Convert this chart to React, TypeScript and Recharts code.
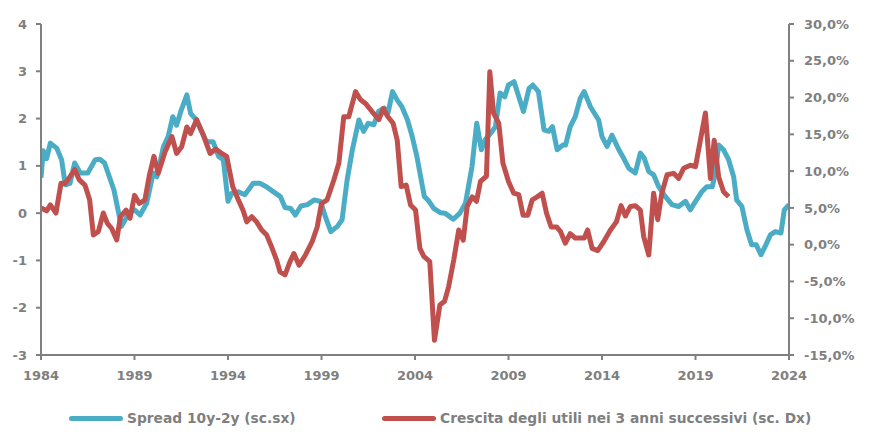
import { CartesianGrid, Legend, Line, LineChart, XAxis, YAxis } from "recharts"

const yearTicks = [1984, 1989, 1994, 1999, 2004, 2009, 2014, 2019, 2024]
const leftTicks = [-3, -2, -1, 0, 1, 2, 3, 4]
const rightTicks = [-15, -10, -5, 0, 5, 10, 15, 20, 25, 30]

// spread 10y-2y (left scale)
const spreadYears = [
  1984.0, 1984.12, 1984.3, 1984.5, 1984.85, 1985.1, 1985.3, 1985.55, 1985.8, 1986.1,
  1986.5, 1986.9, 1987.15, 1987.4, 1987.9, 1988.3, 1988.7, 1989.0, 1989.3, 1989.65,
  1990.0, 1990.2, 1990.55, 1990.8, 1991.05, 1991.25, 1991.5, 1991.8, 1992.0, 1992.3,
  1992.6, 1992.85, 1993.2, 1993.5, 1993.75, 1994.0, 1994.2, 1994.55, 1994.9, 1995.35,
  1995.7, 1996.05, 1996.4, 1996.8, 1997.05, 1997.35, 1997.6, 1997.9, 1998.25, 1998.6,
  1998.95, 1999.2, 1999.5, 1999.85, 2000.1, 2000.37, 2000.65, 2001.0, 2001.25, 2001.5,
  2001.8, 2002.05, 2002.35, 2002.55, 2002.8, 2003.05, 2003.3, 2003.6, 2003.85, 2004.1,
  2004.5, 2004.75, 2005.0, 2005.35, 2005.6, 2006.05, 2006.4, 2006.7, 2007.05, 2007.3,
  2007.55, 2007.75, 2008.05, 2008.3, 2008.55, 2008.8, 2009.0, 2009.3, 2009.55, 2009.8,
  2010.1, 2010.3, 2010.6, 2010.9, 2011.15, 2011.35, 2011.6, 2011.9, 2012.05, 2012.3,
  2012.57, 2012.84, 2013.05, 2013.38, 2013.82, 2014.0, 2014.27, 2014.53, 2014.9, 2015.16,
  2015.43, 2015.78, 2016.05, 2016.26, 2016.5, 2016.76, 2017.03, 2017.39, 2017.74, 2018.1,
  2018.46, 2018.72, 2019.0, 2019.35, 2019.6, 2019.9, 2020.06, 2020.24, 2020.5, 2020.77,
  2021.04, 2021.2, 2021.48, 2021.75, 2022.0, 2022.25, 2022.5, 2022.73, 2023.0, 2023.27,
  2023.57, 2023.75, 2024.0,
]
const spreadValues = [
  0.75, 1.32, 1.15, 1.48, 1.37, 1.13, 0.6, 0.63, 1.06, 0.85,
  0.85, 1.13, 1.14, 1.06, 0.49, -0.28, 0.0, 0.07, -0.04, 0.21,
  0.85, 0.77, 1.41, 1.62, 2.04, 1.86, 2.18, 2.5, 2.11, 1.97,
  1.72, 1.51, 1.51, 1.2, 1.13, 0.25, 0.42, 0.45, 0.39, 0.63,
  0.63, 0.56, 0.46, 0.35, 0.12, 0.1, -0.04, 0.15, 0.18, 0.28,
  0.25, -0.07, -0.39, -0.28, -0.14, 0.7, 1.34, 1.97, 1.73, 1.9,
  1.87, 2.15, 2.22, 2.11, 2.57, 2.39, 2.25, 1.97, 1.62, 1.2,
  0.35, 0.25, 0.1, 0.01, 0.0, -0.13, 0.0, 0.21, 0.99, 1.9,
  1.34, 1.55, 1.69, 1.83, 2.54, 2.46, 2.71, 2.78, 2.46, 2.15,
  2.64, 2.71, 2.57, 1.76, 1.73, 1.83, 1.34, 1.44, 1.44, 1.83,
  2.04, 2.43, 2.57, 2.25, 1.97, 1.62, 1.41, 1.65, 1.34, 1.16,
  0.95, 0.85, 1.27, 1.16, 0.88, 0.81, 0.56, 0.35, 0.18, 0.14,
  0.25, 0.07, 0.25, 0.46, 0.56, 0.56, 0.85, 1.44, 1.34, 1.13,
  0.77, 0.28, 0.14, -0.35, -0.67, -0.67, -0.88, -0.7, -0.46, -0.39,
  -0.42, 0.07, 0.18,
]

// earnings growth over the next 3 years, % (right scale)
const growthYears = [
  1984.0, 1984.3, 1984.5, 1984.8, 1985.07, 1985.3, 1985.55, 1985.8, 1986.05, 1986.35,
  1986.6, 1986.8, 1987.07, 1987.33, 1987.55, 1987.78, 1988.05, 1988.25, 1988.55, 1988.76,
  1989.0, 1989.26, 1989.56, 1989.8, 1990.04, 1990.27, 1990.63, 1991.0, 1991.25, 1991.52,
  1991.8, 1992.0, 1992.32, 1992.68, 1993.04, 1993.35, 1993.66, 1993.93, 1994.25, 1994.55,
  1994.8, 1995.0, 1995.27, 1995.53, 1995.8, 1996.07, 1996.33, 1996.6, 1996.78, 1997.05,
  1997.3, 1997.52, 1997.8, 1998.14, 1998.5, 1998.77, 1999.0, 1999.3, 1999.66, 1999.93,
  2000.19, 2000.46, 2000.82, 2001.09, 2001.35, 2001.7, 2002.07, 2002.3, 2002.55, 2002.83,
  2003.05, 2003.26, 2003.53, 2003.76, 2004.03, 2004.26, 2004.47, 2004.79, 2005.04, 2005.33,
  2005.58, 2005.8, 2006.07, 2006.34, 2006.58, 2006.79, 2007.06, 2007.29, 2007.5, 2007.82,
  2008.0, 2008.2, 2008.48, 2008.7, 2009.0, 2009.28, 2009.55, 2009.78, 2010.03, 2010.27,
  2010.53, 2010.8, 2011.03, 2011.28, 2011.57, 2011.78, 2012.04, 2012.3, 2012.57, 2012.84,
  2013.05, 2013.23, 2013.47, 2013.77, 2014.09, 2014.45, 2014.77, 2015.02, 2015.25, 2015.52,
  2015.78, 2016.05, 2016.23, 2016.5, 2016.76, 2016.98, 2017.2, 2017.48, 2017.83, 2018.1,
  2018.37, 2018.72, 2019.0, 2019.26, 2019.53, 2019.8, 2020.0, 2020.24, 2020.5, 2020.77,
]
const growthValues = [
  5.0, 4.6, 5.4, 4.3, 8.35, 8.35, 9.25, 10.2, 8.8, 8.1,
  6.1, 1.3, 1.8, 4.3, 2.9, 2.2, 0.64, 3.8, 4.7, 3.6,
  6.7, 5.6, 6.1, 9.5, 12.0, 9.7, 12.6, 14.7, 12.4, 13.3,
  16.0, 15.1, 17.0, 14.9, 12.4, 13.0, 12.4, 12.0, 7.9, 6.1,
  4.7, 3.1, 3.8, 3.1, 2.0, 1.3, -0.3, -2.1, -3.7, -4.1,
  -2.4, -1.2, -2.8, -1.4, 0.4, 2.4, 5.6, 6.1, 8.8, 11.1,
  17.4, 17.4, 20.8, 19.7, 19.2, 18.1, 17.0, 18.5, 17.4, 16.5,
  14.2, 7.9, 8.1, 5.4, 4.7, -0.5, -1.6, -2.3, -13.0, -8.2,
  -7.7, -5.7, -2.1, 2.0, 0.6, 5.2, 6.5, 5.9, 8.6, 9.3,
  23.5, 17.9, 16.5, 11.1, 8.6, 7.0, 6.8, 4.0, 4.0, 6.1,
  6.5, 7.0, 4.3, 2.4, 2.4, 1.8, 0.2, 1.5, 0.9, 0.9,
  0.9, 2.0, -0.5, -0.8, 0.4, 2.0, 3.1, 5.3, 3.9, 5.2,
  5.3, 4.7, 1.1, -1.4, 7.0, 3.4, 7.0, 9.5, 9.7, 9.0,
  10.4, 10.8, 10.6, 14.2, 17.9, 9.0, 14.2, 9.2, 7.2, 6.5,
]

const spreadData = spreadYears.map((year, i) => ({ year, spread: spreadValues[i] }))
const growthData = growthYears.map((year, i) => ({ year, growth: growthValues[i] }))

const TEAL = "#4BACC6"
const RED = "#C0504D"
const GREY = "#808080"

const tickStyle = { fill: "#7f7f7f", fontSize: 13, fontWeight: 700, fontFamily: "'DejaVu Sans', sans-serif" }

const fmtPct = (v: number) => v.toFixed(1).replace(".", ",") + "%"

function ChartLegend() {
  const item = (left: number, color: string, label: string) => (
    <div style={{ position: "absolute", left, top: 25, display: "flex", alignItems: "center" }}>
      <div style={{ width: 54, height: 5, borderRadius: 3, background: color, marginRight: 4 }} />
      <span style={{ color: "#7f7f7f", fontSize: 13.8, fontWeight: 700, fontFamily: "'DejaVu Sans', sans-serif" }}>
        {label}
      </span>
    </div>
  )
  return (
    <div style={{ position: "relative", height: 50, width: 853 }}>
      {item(61, TEAL, "Spread 10y-2y (sc.sx)")}
      {item(374, RED, "Crescita degli utili nei 3 anni successivi (sc. Dx)")}
    </div>
  )
}

export default function App() {
  return (
    <LineChart width={853} height={427} margin={{ top: 16, right: 0, bottom: 0, left: 0 }}>
      <CartesianGrid stroke="none" />
      <XAxis
        dataKey="year"
        type="number"
        domain={[1984, 2024]}
        ticks={yearTicks}
        allowDataOverflow
        height={30}
        tick={tickStyle}
        tickSize={5}
        tickMargin={11}
        stroke={GREY}
        strokeWidth={2}
      />
      <YAxis
        yAxisId="left"
        domain={[-3, 4]}
        ticks={leftTicks}
        width={33}
        tick={tickStyle}
        tickSize={5}
        tickMargin={9}
        stroke={GREY}
        strokeWidth={2}
      />
      <YAxis
        yAxisId="right"
        orientation="right"
        domain={[-15, 30]}
        ticks={rightTicks}
        tickFormatter={fmtPct}
        width={72}
        tick={tickStyle}
        tickSize={5}
        tickMargin={10}
        stroke={GREY}
        strokeWidth={2}
      />
      <Legend verticalAlign="bottom" content={() => <ChartLegend />} />
      <Line
        yAxisId="left"
        data={spreadData}
        dataKey="spread"
        type="linear"
        stroke={TEAL}
        strokeWidth={5}
        strokeLinejoin="round"
        dot={false}
        isAnimationActive={false}
      />
      <Line
        yAxisId="right"
        data={growthData}
        dataKey="growth"
        type="linear"
        stroke={RED}
        strokeWidth={5}
        strokeLinejoin="round"
        dot={false}
        isAnimationActive={false}
      />
    </LineChart>
  )
}
